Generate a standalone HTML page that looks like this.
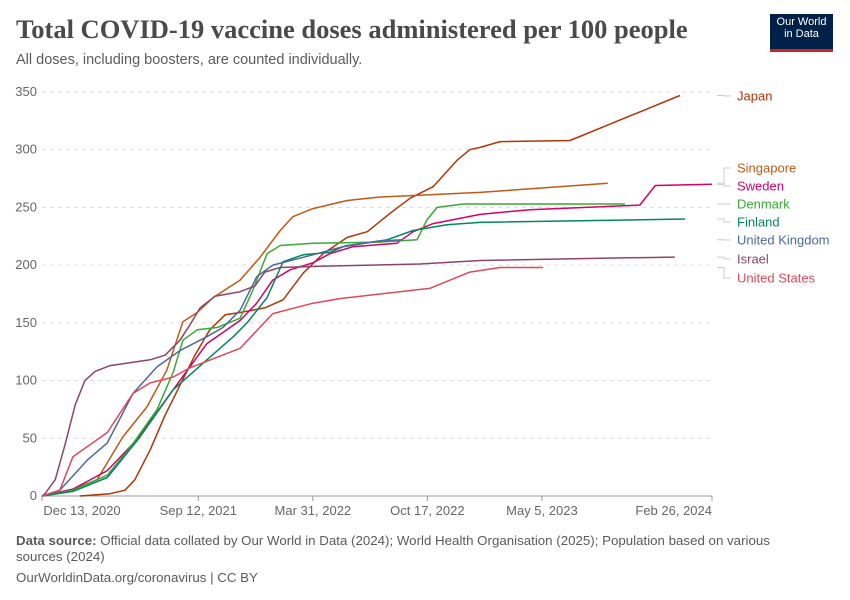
<!DOCTYPE html>
<html><head><meta charset="utf-8"><style>
body{margin:0;background:#fff;font-family:"Liberation Sans",sans-serif}
#wrap{position:relative;width:850px;height:600px;overflow:hidden}
.title{position:absolute;left:16px;top:14px;font-family:"Liberation Serif",serif;font-size:26.5px;color:#4a4a4a;font-weight:bold}
.sub{position:absolute;left:16px;top:52px;font-size:14.5px;color:#5b5b5b}
.logo{position:absolute;left:770px;top:14px;width:63px;height:38px;background:#002147;color:#fff;font-size:11px;line-height:12px;text-align:center;padding-top:2px;box-sizing:border-box;border-bottom:3px solid #ce261e}
.foot{position:absolute;left:16px;font-size:13.3px;color:#5b5b5b}
</style></head><body><div id="wrap">
<div class="title">Total COVID-19 vaccine doses administered per 100 people</div>
<div class="sub">All doses, including boosters, are counted individually.</div>
<div class="logo">Our World<br>in Data</div>
<svg id="svg" width="850" height="600" style="position:absolute;left:0;top:0"></svg>
<div class="foot" style="top:533px;width:780px;line-height:16px"><b>Data source:</b> Official data collated by Our World in Data (2024); World Health Organisation (2025); Population based on various sources (2024)</div>
<div class="foot" style="top:570px">OurWorldinData.org/coronavirus | CC BY</div>
</div>
<script>
const yTicks=[0,50,100,150,200,250,300,350];
const xTickDays=[0,273,473,673,873,1170];
const xTickLabels=["Dec 13, 2020","Sep 12, 2021","Mar 31, 2022","Oct 17, 2022","May 5, 2023","Feb 26, 2024"];
const countries=["Japan","Singapore","Sweden","Denmark","Finland","United Kingdom","Israel","United States"];
const colors=["#b13507","#c05917","#d4006b","#38aa34","#00875e","#4c6a9c","#8c4569","#e0485c"];
const labelY=[96,168,186,204,222,240,259,278];
const japanDays=[66,119,145,162,189,215,241,267,293,320,346,389,421,456,491,533,568,608,643,683,725,747,765,800,922,1114];
const japanVals=[0,2,5,14,40,70,96,122,144,157,159,163,170,193,210,224,229,245,258,268,291,300,302,307,308,347];
const singaporeDays=[0,49,96,141,183,218,246,271,299,346,381,416,438,473,533,590,765,988];
const singaporeVals=[0,5,14,51,77,109,151,159,172,187,207,230,242,249,256,259,263,271];
const swedenDays=[0,54,114,166,229,288,346,375,403,433,473,503,543,620,648,683,765,852,1044,1071,1170];
const swedenVals=[0,6,22,49,92,132,152,167,187,196,202,210,216,219,229,236,244,248,252,269,270];
const denmarkDays=[0,54,114,154,201,229,246,271,306,346,368,393,416,473,590,655,672,690,735,1018];
const denmarkVals=[0,5,18,42,75,107,135,144,146,154,178,210,217,219,220,222,239,250,253,253];
const finlandDays=[0,54,114,171,229,288,334,358,393,421,456,503,526,603,648,707,765,1123];
const finlandVals=[0,4,16,51,92,118,138,150,172,203,209,211,216,222,230,235,237,240];
const ukDays=[0,31,79,114,159,201,241,288,316,346,375,403,473,533,590,630];
const ukVals=[0,5,31,46,89,112,126,138,146,161,190,200,209,217,221,222];
const israelDays=[0,5,23,40,58,75,93,119,189,215,241,258,276,302,346,372,389,416,486,660,765,975,1105];
const israelVals=[0,2,14,44,79,100,108,113,118,122,135,148,163,173,177,182,194,198,199,201,204,206,207];
const usDays=[0,31,54,114,159,189,229,258,346,403,473,520,625,678,747,800,875];
const usVals=[0,5,34,55,89,98,103,111,128,158,167,171,177,180,194,198,198];
const seriesDays=[japanDays,singaporeDays,swedenDays,denmarkDays,finlandDays,ukDays,israelDays,usDays];
const seriesVals=[japanVals,singaporeVals,swedenVals,denmarkVals,finlandVals,ukVals,israelVals,usVals];

const X0=42,X1=712,Y0=496,Y1=92,DMAX=1170,VMAX=350;
const sx=d=>X0+(X1-X0)*d/DMAX, sy=v=>Y0-(Y0-Y1)*v/VMAX;
const svg=document.getElementById('svg'),NS='http://www.w3.org/2000/svg';
function mk(t,a){const e=document.createElementNS(NS,t);for(const k in a)e.setAttribute(k,a[k]);svg.appendChild(e);return e;}
yTicks.forEach(v=>{
 if(v>0){const l=mk('line',{x1:X0,x2:X1,y1:sy(v),y2:sy(v),stroke:'#ddd','stroke-dasharray':'4,4'});
 
 }
 const t=mk('text',{x:37,y:sy(v)+4,'text-anchor':'end','font-size':13,fill:'#666','font-family':'Liberation Sans'});t.textContent=v;
 
 
});
const ax=mk('line',{x1:X0,x2:X1,y1:Y0,y2:Y0,stroke:'#999'});


xTickDays.forEach((d,i)=>{
 const tk=mk('line',{x1:sx(d),x2:sx(d),y1:Y0,y2:Y0+5,stroke:'#999'});
 
 
 let anchor=i==xTickDays.length-1?'end':'middle';
 let x=sx(d); if(i==0){x=X0+40;}
 const t=mk('text',{x:x,y:515,'text-anchor':anchor,'font-size':13,fill:'#666','font-family':'Liberation Sans'});t.textContent=xTickLabels[i];
 
 
});
seriesDays.forEach((ds,i)=>{
 const p=ds.map((d,j)=>(j?'L':'M')+sx(d).toFixed(1)+','+sy(seriesVals[i][j]).toFixed(1)).join('');
 const path=mk('path',{d:p,fill:'none',stroke:colors[i],'stroke-width':1.5,'stroke-linejoin':'round'});
 
 
 const vals=seriesVals[i],ey=sy(vals[vals.length-1]),ly=labelY[i];
 const c=mk('path',{d:`M717,${ey}L724,${ey}L724,${ly}L731,${ly}`,fill:'none',stroke:'#ccc'});
 
 
 const t=mk('text',{x:737,y:ly+4.5,'font-size':13,fill:colors[i],'font-family':'Liberation Sans'});t.textContent=countries[i];
 
 
});
</script></body></html>
